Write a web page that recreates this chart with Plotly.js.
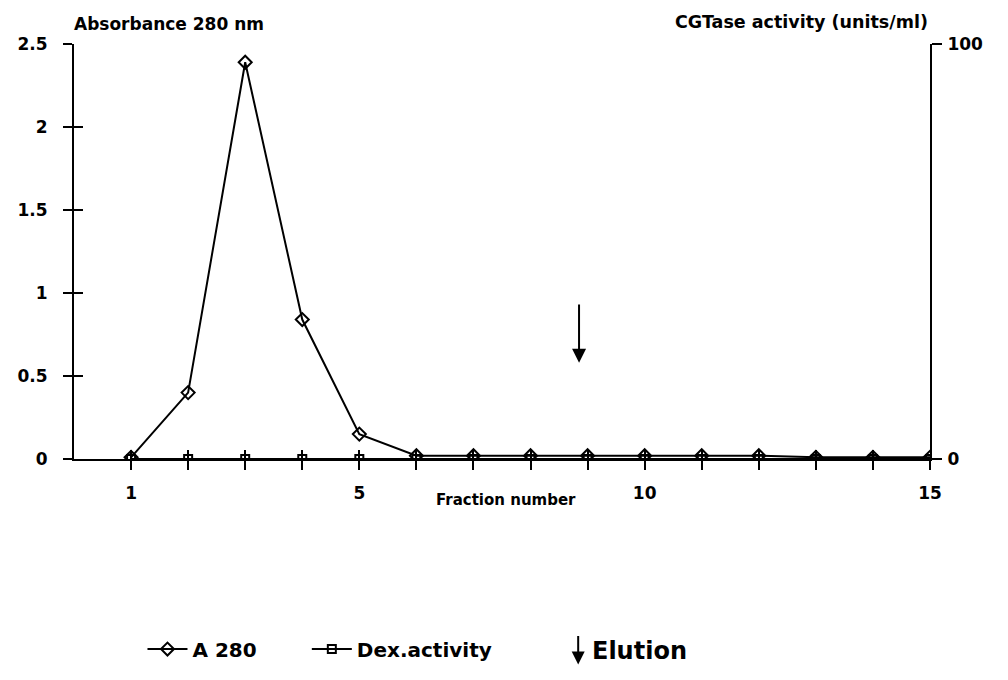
<!DOCTYPE html>
<html>
<head>
<meta charset="utf-8">
<script src="https://cdn.plot.ly/plotly-3.0.1.min.js"></script>
<style>html,body{margin:0;padding:0;background:#fff;}#chart{width:1008px;height:680px;}</style>
</head>
<body>
<div id="chart"></div>
<script>
// Data
const fractions = [1,2,3,4,5,6,7,8,9,10,11,12,13,14,15];
const a280 = [0.01,0.40,2.39,0.84,0.15,0.02,0.02,0.02,0.02,0.02,0.02,0.02,0.01,0.01,0.01];
const dexActivity = [0,0,0,0,0,0,0,0,0,0,0,0,0,0,0];
const xTickVals = [1,2,3,4,5,6,7,8,9,10,11,12,13,14,15];
const xTickText = ['1','','','','5','','','','','10','','','','','15'];
const yTickVals = [0,0.5,1,1.5,2,2.5];
const yTickText = ['0','0.5','1','1.5','2','2.5'];
const y2TickVals = [0,100];
const y2TickText = ['0','100'];
const elutionX = 8.85;
const elutionFrom = 0.94;
const elutionTo = 0.58;

const F = 'DejaVu Sans, Verdana, sans-serif';
const fontB = {family: F, size: 17, color: '#000'};
const bold = arr => arr.map(t => t ? '<b>' + t + '</b>' : '');

const traces = [
  {x: fractions, y: a280, name: '<b>A 280</b>', mode: 'lines+markers', xaxis: 'x', yaxis: 'y', legend: 'legend',
   line: {color: '#000', width: 2}, marker: {symbol: 'diamond-open', size: 10, color: '#000', line: {width: 2}}},
  {x: fractions, y: dexActivity, name: '<b>Dex.activity</b>', mode: 'lines+markers', xaxis: 'x', yaxis: 'y2', legend: 'legend2',
   line: {color: '#000', width: 2}, marker: {symbol: 'square-open', size: 8, color: '#000', line: {width: 2}}},
  {x: [], y: [], xaxis: 'x2', yaxis: 'y3', showlegend: false, hoverinfo: 'skip'},
  {x: [], y: [], xaxis: 'x2', yaxis: 'y4', showlegend: false, hoverinfo: 'skip'}
];

const legendBase = {orientation: 'h', xanchor: 'left', y: -0.458, yanchor: 'middle',
  font: {family: F, size: 20, color: '#000'}, itemwidth: 40, bgcolor: 'rgba(0,0,0,0)'};

const baseX = {range: [0, 15], tickvals: xTickVals, ticktext: bold(xTickText), showgrid: false, zeroline: false};
const layout = {
  width: 1008, height: 680,
  margin: {l: 74, r: 78, t: 44, b: 219},
  paper_bgcolor: '#fff', plot_bgcolor: '#fff',
  font: {family: F, color: '#000'},
  showlegend: true,
  legend: Object.assign({}, legendBase, {x: 0.08}),
  legend2: Object.assign({}, legendBase, {x: 0.272}),
  xaxis: Object.assign({}, baseX, {
    anchor: 'y', showline: true, linecolor: '#000', linewidth: 2,
    ticks: 'outside', ticklen: 9, tickwidth: 2, tickcolor: '#000',
    tickfont: fontB, ticklabelstandoff: 9
  }),
  xaxis2: Object.assign({}, baseX, {
    overlaying: 'x', anchor: 'y3', showline: false, showticklabels: false,
    ticks: 'inside', ticklen: 9, tickwidth: 2, tickcolor: '#000'
  }),
  yaxis: {range: [0, 2.5], tickvals: yTickVals, ticktext: bold(yTickText), showgrid: false, zeroline: false,
    anchor: 'x', showline: true, linecolor: '#000', linewidth: 2,
    ticks: 'outside', ticklen: 9, tickwidth: 2, tickcolor: '#000', tickfont: fontB, ticklabelstandoff: 12},
  yaxis3: {range: [0, 2.5], tickvals: yTickVals, showgrid: false, zeroline: false, overlaying: 'y',
    anchor: 'x2', showticklabels: false, showline: false,
    ticks: 'inside', ticklen: 9, tickwidth: 2, tickcolor: '#000'},
  yaxis2: {range: [0, 100], tickvals: y2TickVals, ticktext: bold(y2TickText), showgrid: false, zeroline: false,
    overlaying: 'y', side: 'right', anchor: 'x', showline: true, linecolor: '#000', linewidth: 2,
    ticks: 'outside', ticklen: 10, tickwidth: 2, tickcolor: '#000', tickfont: fontB, ticklabelstandoff: 2},
  yaxis4: {range: [0, 100], tickvals: y2TickVals, showgrid: false, zeroline: false,
    overlaying: 'y', side: 'right', anchor: 'x2', showticklabels: false, showline: false,
    ticks: 'inside', ticklen: 12, tickwidth: 2, tickcolor: '#000'},
  annotations: [
    {xref: 'paper', yref: 'paper', x: -0.002, y: 1.02, xanchor: 'left', yanchor: 'bottom', showarrow: false,
     text: '<b>Absorbance 280 nm</b>', font: {family: F, size: 17, color: '#000'}},
    {xref: 'paper', yref: 'paper', x: 1.0, y: 1.025, xanchor: 'right', yanchor: 'bottom', showarrow: false,
     text: '<b>CGTase activity (units/ml)</b>', font: {family: F, size: 17.5, color: '#000'}},
    {xref: 'paper', yref: 'paper', x: 0.505, y: -0.098, xanchor: 'center', yanchor: 'middle', showarrow: false,
     text: '<b>Fraction number</b>', font: {family: F, size: 15, color: '#000'}},
    {xref: 'x', yref: 'y', x: elutionX, y: elutionTo, axref: 'x', ayref: 'y', ax: elutionX, ay: elutionFrom,
     showarrow: true, arrowhead: 2, arrowsize: 1.4, arrowwidth: 2, arrowcolor: '#000', text: ''},
    {xref: 'paper', yref: 'paper', x: 0.589, y: -0.495, ax: 0, ay: -30, axref: 'pixel', ayref: 'pixel',
     showarrow: true, arrowhead: 2, arrowsize: 1.3, arrowwidth: 2, arrowcolor: '#000', text: ''},
    {xref: 'paper', yref: 'paper', x: 0.603, y: -0.462, xanchor: 'left', yanchor: 'middle', showarrow: false,
     text: '<b>Elution</b>', font: {family: F, size: 24, color: '#000'}}
  ]
};

Plotly.newPlot('chart', traces, layout, {displayModeBar: false, staticPlot: true});
</script>
</body>
</html>
